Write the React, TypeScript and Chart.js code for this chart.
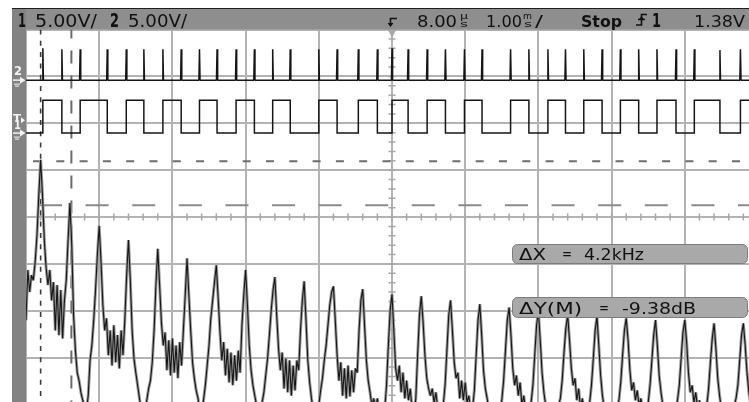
import { useEffect, useRef } from "react";
import { Chart, registerables } from "chart.js";

Chart.register(...registerables);

// ---- acquisition settings ----
const VOLTS_PER_DIV = 5;
const TIME_MS_PER_DIV = 1;
const TRIG_DELAY_US = 8;
const TRIG_LEVEL_V = 1.38;
const CH1_OFFSET_DIV = 1.79;
const CH2_OFFSET_DIV = 2.92;
const FFT_SPAN_KHZ = 100;
const FFT_DB_PER_DIV = 10;

// channel 1 logic transitions (ms from trigger), first one is a rising edge
const ch1Edges = [
  -4.77, -4.51, -4.26, -3.89, -3.63, -3.39, -3.13, -2.88, -2.63, -2.39,
  -2.13, -1.88, -1.63, -1.39, -1.0, -0.75, -0.46, -0.2, 0, 0.22,
  0.48, 0.73, 0.99, 1.23, 1.62, 1.87, 2.13, 2.37, 2.62, 2.87,
  3.12, 3.37, 3.62, 3.88, 4.13, 4.48, 4.76,
];
// channel 1 low / high level (V)
const ch1Levels = [0, 3.5];

// channel 2 spike height at each channel 1 transition (V)
const ch2Spikes = [
  3.4, 3.3, 3.3, 3.3, 3.3, 3.3, 3.3, 3.3, 3.3, 3.3,
  3.3, 3.3, 3.3, 3.3, 3.3, 3.3, 3.3, 3.3, 3.4, 3.3,
  3.3, 3.3, 3.3, 3.3, 3.3, 3.3, 3.3, 3.3, 3.3, 3.3,
  3.3, 3.3, 3.3, 3.3, 3.3, 3.2, 3.3,
];

// FFT magnitude (dB), one value per 0.25 kHz bin starting at 0 kHz
const FFT_BIN_KHZ = 0.25;
const fftDb = [
  -22.0, -11.3, -16.0, -12.4, -13.5, -9.6, -3.9, 4.7, 12.2, 4.7, -4.9, -10.9, -14.5, -11.3, -17.8, -13.9,
  -24.2, -14.5, -25.2, -15.6, -25.9, -17.8, -13.5, -4.9, 3.0, -6.0, -21.0, -28.5, -33.2, -34.9, -37.4, -39.1,
  -40.2, -41.3, -38.1, -30.6, -27.4, -22.0, -15.6, -8.1, -1.9, -9.6, -18.8, -24.2, -21.6, -29.5, -24.2, -31.7,
  -23.1, -31.0, -25.2, -32.3, -24.2, -29.5, -22.0, -12.4, -4.9, -13.5, -24.2, -30.2, -33.2, -35.9, -38.7, -41.3,
  -42.4, -41.7, -39.1, -36.6, -34.9, -31.0, -24.2, -14.5, -6.8, -14.5, -22.5, -27.4, -24.6, -32.7, -26.3, -33.8,
  -25.9, -33.2, -27.4, -34.4, -26.7, -31.7, -24.2, -16.7, -8.8, -16.7, -24.2, -31.0, -34.4, -37.0, -38.7, -41.7,
  -42.4, -39.1, -35.9, -31.7, -27.4, -21.6, -17.8, -13.9, -10.3, -17.3, -24.6, -30.6, -26.7, -33.8, -28.1, -35.3,
  -28.9, -35.9, -29.5, -34.9, -28.5, -33.2, -23.1, -16.7, -11.3, -18.8, -27.4, -32.7, -35.9, -38.1, -40.2, -42.4,
  -41.7, -39.6, -37.4, -33.8, -30.2, -25.2, -19.9, -15.6, -12.8, -21.0, -28.1, -32.7, -28.9, -36.6, -30.2, -37.4,
  -30.6, -38.1, -31.7, -37.0, -30.6, -32.7, -24.2, -17.8, -13.7, -22.0, -30.6, -35.3, -38.7, -41.3, -42.4, -41.7,
  -40.2, -37.0, -34.4, -30.6, -27.4, -23.1, -18.8, -16.0, -14.8, -22.0, -29.5, -34.9, -31.0, -38.1, -32.3, -38.7,
  -31.7, -38.3, -32.7, -37.4, -32.3, -33.2, -24.2, -17.8, -15.4, -23.1, -30.6, -34.9, -37.4, -40.2, -38.7, -41.3,
  -38.7, -41.7, -40.9, -39.6, -41.3, -35.9, -27.4, -19.9, -16.5, -24.2, -32.3, -34.9, -31.7, -37.4, -33.2, -38.7,
  -34.9, -39.1, -36.6, -41.3, -42.4, -38.7, -29.5, -21.0, -16.9, -22.5, -29.5, -34.4, -36.6, -38.1, -36.6, -39.6,
  -37.4, -40.9, -42.4, -41.7, -40.2, -35.9, -28.5, -21.0, -17.8, -24.2, -31.0, -34.4, -33.2, -38.7, -34.9, -39.1,
  -35.3, -39.6, -38.1, -41.7, -40.9, -37.0, -29.5, -22.0, -18.6, -25.2, -32.7, -36.6, -38.7, -41.3, -40.2, -42.4,
  -41.7, -39.6, -41.3, -42.4, -39.1, -34.9, -28.5, -22.0, -19.3, -25.2, -32.3, -35.9, -33.8, -38.1, -35.3, -40.2,
  -38.1, -41.3, -42.4, -41.7, -39.6, -35.9, -29.5, -23.1, -20.1, -26.3, -33.2, -37.4, -40.2, -41.7, -40.9, -42.4,
  -41.7, -42.4, -41.3, -40.2, -38.7, -34.9, -28.9, -23.7, -20.9, -26.3, -32.3, -35.9, -34.4, -39.1, -36.6, -40.9,
  -38.7, -41.7, -42.4, -41.7, -39.6, -35.9, -30.2, -24.2, -21.2, -27.4, -33.8, -38.1, -40.9, -42.4, -41.7, -42.4,
  -41.3, -42.4, -41.7, -40.9, -39.1, -35.3, -29.5, -24.2, -21.6, -26.3, -32.7, -37.0, -35.3, -39.1, -37.0, -40.2,
  -38.7, -41.3, -42.4, -41.7, -39.6, -35.9, -30.6, -25.2, -22.0, -27.4, -33.8, -37.4, -40.2, -41.7, -42.4, -41.7,
  -41.3, -42.4, -41.7, -40.9, -39.1, -35.9, -30.2, -24.6, -22.0, -26.7, -33.2, -37.4, -35.9, -39.6, -37.4, -40.9,
  -39.1, -41.7, -42.4, -41.7, -40.2, -36.6, -31.0, -25.9, -22.7, -28.1, -34.4, -38.1, -40.9, -42.4, -41.7, -42.4,
  -41.7, -42.4, -41.3, -40.2, -38.7, -35.9, -30.6, -25.2, -22.7, -27.4, -33.2, -37.4, -40.0, -41.0, -42.0, -41.0,
];

// measurement cursors: X in kHz, Y in dB
const cursorKHz = [2.0, 6.2];
const cursorDb = [11.9, 2.52];

const HALF_DIVS_X = 5;
const HALF_DIVS_Y = 4;

type Pt = { x: number; y: number };

function buildCh1(): Pt[] {
  const [lo, hi] = ch1Levels;
  const tEnd = HALF_DIVS_X * TIME_MS_PER_DIV;
  const pts: Pt[] = [{ x: -tEnd, y: lo }];
  let level = lo;
  ch1Edges.forEach((t, i) => {
    const next = i % 2 === 0 ? hi : lo;
    pts.push({ x: t, y: level }, { x: t, y: next });
    level = next;
  });
  pts.push({ x: tEnd, y: level });
  return pts;
}

function buildCh2(): Pt[] {
  const tEnd = HALF_DIVS_X * TIME_MS_PER_DIV;
  const w = 0.008;
  const pts: Pt[] = [{ x: -tEnd, y: 0 }];
  ch1Edges.forEach((t, i) => {
    pts.push({ x: t - w, y: 0 }, { x: t, y: ch2Spikes[i] }, { x: t + w, y: 0 });
  });
  pts.push({ x: tEnd, y: 0 });
  return pts;
}

function buildFft(): Pt[] {
  return fftDb.map((v, i) => ({ x: i * FFT_BIN_KHZ, y: v }));
}

const FONT = '"DejaVu Sans", "Liberation Sans", sans-serif';

function fitText(ctx: CanvasRenderingContext2D, text: string, x: number, y: number, width: number, font: string) {
  ctx.font = font;
  const m = ctx.measureText(text).width || 1;
  ctx.save();
  ctx.translate(x, y);
  ctx.scale(width / m, 1);
  ctx.fillText(text, 0, 0);
  ctx.restore();
}

function dashedLine(ctx: CanvasRenderingContext2D, x1: number, y1: number, x2: number, y2: number, dash: number[], offset: number, color: string, lw: number) {
  ctx.save();
  ctx.strokeStyle = color;
  ctx.lineWidth = lw;
  ctx.setLineDash(dash);
  ctx.lineDashOffset = offset;
  ctx.beginPath();
  ctx.moveTo(x1, y1);
  ctx.lineTo(x2, y2);
  ctx.stroke();
  ctx.restore();
}

const scopeFrame = {
  id: "scopeFrame",
  beforeDraw(chart: any) {
    const { ctx, width, height } = chart;
    ctx.save();
    ctx.fillStyle = "#ffffff";
    ctx.fillRect(0, 0, width, height);
    ctx.restore();
  },
  beforeDatasetsDraw(chart: any) {
    const { ctx, chartArea: a, scales } = chart;
    const cx = scales.x.getPixelForValue(0);
    const cy = scales.y.getPixelForValue(0);
    ctx.save();
    ctx.strokeStyle = "#a8a8a8";
    ctx.lineWidth = 1.5;
    ctx.beginPath();
    for (let v = -HALF_DIVS_Y; v <= HALF_DIVS_Y + 1e-6; v += 0.2) {
      const py = scales.y.getPixelForValue(v);
      ctx.moveTo(cx - 3.5, py);
      ctx.lineTo(cx + 3.5, py);
    }
    for (let v = -HALF_DIVS_X; v <= HALF_DIVS_X + 1e-6; v += 0.2) {
      const px = scales.x.getPixelForValue(v);
      ctx.moveTo(px, cy - 3.5);
      ctx.lineTo(px, cy + 3.5);
    }
    ctx.stroke();
    // trigger position marker
    ctx.fillStyle = "#a8a8a8";
    ctx.beginPath();
    ctx.moveTo(cx - 4.5, a.top);
    ctx.lineTo(cx + 4.5, a.top);
    ctx.lineTo(cx, a.top + 8);
    ctx.closePath();
    ctx.fill();
    ctx.restore();

    // FFT cursors
    const xf = scales.xF;
    const yf = scales.yF;
    const x1 = xf.getPixelForValue(cursorKHz[0]);
    const x2 = xf.getPixelForValue(cursorKHz[1]);
    const y1 = yf.getPixelForValue(cursorDb[0]);
    const y2 = yf.getPixelForValue(cursorDb[1]);
    dashedLine(ctx, a.left, y1, a.right, y1, [8, 15.3], 16.3, "#6e6e6e", 2);
    dashedLine(ctx, a.left, y2, a.right, y2, [23, 23.6], 33.6, "#8a8a8a", 2);
    dashedLine(ctx, x1, a.top, x1, a.bottom, [5, 6.3], 0, "#3c3c3c", 1.6);
    dashedLine(ctx, x2, a.top, x2, a.bottom, [13, 12], 4, "#6a6a6a", 2);
  },
  afterDraw(chart: any) {
    const { ctx, width, height, scales } = chart;
    ctx.save();
    // frame: top white, dark rule, grey header and left strip
    ctx.fillStyle = "#ffffff";
    ctx.fillRect(0, 0, width, 8);
    ctx.fillRect(0, 0, 12, height);
    ctx.fillStyle = "#1e1e1e";
    ctx.fillRect(12, 8, width - 12, 1);
    ctx.fillStyle = "#8e8e8e";
    ctx.fillRect(12, 9, width - 12, chart.chartArea.top - 9);
    ctx.fillStyle = "#838383";
    ctx.fillRect(12, 9, chart.chartArea.left - 12, height - 9);

    // header text
    ctx.fillStyle = "#111111";
    ctx.textBaseline = "alphabetic";
    const vdiv = `${VOLTS_PER_DIV.toFixed(2)}V/`;
    fitText(ctx, "1", 18, 27, 8, `bold 19px ${FONT}`);
    fitText(ctx, vdiv, 35, 27, 62, `18px ${FONT}`);
    fitText(ctx, "2", 110, 27, 9, `bold 19px ${FONT}`);
    fitText(ctx, vdiv, 128, 27, 59, `18px ${FONT}`);

    // trigger-position symbol
    ctx.strokeStyle = "#111111";
    ctx.fillStyle = "#111111";
    ctx.lineWidth = 1.6;
    ctx.beginPath();
    ctx.moveTo(397, 18.5);
    ctx.lineTo(390.5, 18.5);
    ctx.lineTo(390.5, 24);
    ctx.stroke();
    ctx.beginPath();
    ctx.moveTo(387.5, 23);
    ctx.lineTo(393.5, 23);
    ctx.lineTo(390.5, 27);
    ctx.closePath();
    ctx.fill();

    fitText(ctx, TRIG_DELAY_US.toFixed(2), 417, 26.5, 40, `16px ${FONT}`);
    fitText(ctx, "\u00b5", 460, 19, 8, `9px ${FONT}`);
    fitText(ctx, "s", 460, 27, 8, `9px ${FONT}`);
    fitText(ctx, TIME_MS_PER_DIV.toFixed(2), 486, 26.5, 36, `16px ${FONT}`);
    fitText(ctx, "m", 523, 19, 9, `9px ${FONT}`);
    fitText(ctx, "s", 524, 27, 8, `9px ${FONT}`);
    fitText(ctx, "/", 535, 26.5, 8, `16px ${FONT}`);
    fitText(ctx, "Stop", 581, 26.5, 41, `bold 16px ${FONT}`);

    // trigger slope symbol
    ctx.beginPath();
    ctx.moveTo(636, 25);
    ctx.lineTo(641.5, 25);
    ctx.lineTo(641.5, 14.5);
    ctx.lineTo(647, 14.5);
    ctx.moveTo(638, 19.5);
    ctx.lineTo(645, 19.5);
    ctx.stroke();
    ctx.beginPath();
    ctx.moveTo(638.5, 20);
    ctx.lineTo(644.5, 20);
    ctx.lineTo(641.5, 16);
    ctx.closePath();
    ctx.fill();

    fitText(ctx, "1", 652, 27, 9, `bold 19px ${FONT}`);
    fitText(ctx, `${TRIG_LEVEL_V.toFixed(2)}V`, 694, 26.5, 51, `16px ${FONT}`);

    // channel markers on the left strip
    const g2 = scales.y2.getPixelForValue(0);
    const g1 = scales.y1.getPixelForValue(0);
    const tl = scales.y1.getPixelForValue(TRIG_LEVEL_V);
    ctx.fillStyle = "#f2f2f2";
    ctx.strokeStyle = "#f2f2f2";
    fitText(ctx, "2", 14, g2 - 5, 8, `bold 12px ${FONT}`);
    fitText(ctx, "1", 14, g1 - 4, 7, `bold 12px ${FONT}`);
    fitText(ctx, "T", 13, tl + 2, 8, `bold 10px ${FONT}`);
    ctx.lineWidth = 1.5;
    for (const gy of [g2, g1]) {
      ctx.beginPath();
      ctx.moveTo(13, gy);
      ctx.lineTo(22, gy);
      ctx.stroke();
      ctx.beginPath();
      ctx.moveTo(20, gy - 3.5);
      ctx.lineTo(25.5, gy);
      ctx.lineTo(20, gy + 3.5);
      ctx.closePath();
      ctx.fill();
      ctx.fillRect(14, gy + 3.5, 6, 1);
      ctx.fillRect(15, gy + 5.5, 4, 1);
    }
    ctx.beginPath();
    ctx.moveTo(21, tl - 3);
    ctx.lineTo(25, tl);
    ctx.lineTo(21, tl + 3);
    ctx.closePath();
    ctx.fill();

    // cursor readouts
    const dX = (cursorKHz[1] - cursorKHz[0]).toFixed(1);
    const dY = (cursorDb[1] - cursorDb[0]).toFixed(2);
    const box = (y: number, h: number) => {
      ctx.beginPath();
      ctx.roundRect(512.5, y + 0.5, 235, h, 5);
      ctx.fillStyle = "#a9a9a9";
      ctx.fill();
      ctx.strokeStyle = "#7c7c7c";
      ctx.lineWidth = 1;
      ctx.stroke();
    };
    box(244, 19);
    box(297, 20);
    ctx.fillStyle = "#111111";
    fitText(ctx, "\u0394X", 519, 260, 27, `16px ${FONT}`);
    fitText(ctx, "=", 562, 259, 10, `16px ${FONT}`);
    fitText(ctx, `${dX}kHz`, 584, 260, 60, `16px ${FONT}`);
    fitText(ctx, "\u0394Y(M)", 519, 313.5, 63, `16px ${FONT}`);
    fitText(ctx, "=", 599, 312.5, 10, `16px ${FONT}`);
    fitText(ctx, `${dY}dB`, 622, 313.5, 74, `16px ${FONT}`);
    ctx.restore();
  },
};

export default function App() {
  const ref = useRef<HTMLCanvasElement | null>(null);

  useEffect(() => {
    const canvas = ref.current;
    if (!canvas) return;
    const fft = buildFft();
    const hideAxis = { display: false };
    const gridAxis = {
      type: "linear" as const,
      ticks: { display: false, stepSize: 1 },
      grid: { color: "#b3b3b3", lineWidth: 2, drawTicks: false },
      border: { display: false },
    };
    const chart = new Chart(canvas, {
      type: "line",
      data: {
        datasets: [
          {
            label: "FFT halo",
            data: fft,
            xAxisID: "xF",
            yAxisID: "yF",
            borderColor: "#9c9c9c",
            borderWidth: 3,
            pointRadius: 0,
            borderJoinStyle: "bevel",
            order: 4,
          },
          {
            label: "FFT",
            data: fft,
            xAxisID: "xF",
            yAxisID: "yF",
            borderColor: "#161616",
            borderWidth: 1.1,
            pointRadius: 0,
            borderJoinStyle: "bevel",
            order: 3,
          },
          {
            label: "Channel 1",
            data: buildCh1(),
            xAxisID: "x",
            yAxisID: "y1",
            borderColor: "#151515",
            borderWidth: 1.5,
            pointRadius: 0,
            order: 2,
          },
          {
            label: "Channel 2",
            data: buildCh2(),
            xAxisID: "x",
            yAxisID: "y2",
            borderColor: "#151515",
            borderWidth: 1.5,
            pointRadius: 0,
            borderJoinStyle: "bevel",
            order: 1,
          },
        ],
      },
      options: {
        animation: false,
        responsive: false,
        devicePixelRatio: 1,
        events: [],
        layout: { padding: { left: 26, top: 29.5, right: 2, bottom: 1.5 } },
        plugins: { legend: { display: false }, tooltip: { enabled: false } },
        scales: {
          x: { ...gridAxis, position: "bottom", min: -HALF_DIVS_X * TIME_MS_PER_DIV, max: HALF_DIVS_X * TIME_MS_PER_DIV },
          y: { ...gridAxis, position: "left", min: -HALF_DIVS_Y, max: HALF_DIVS_Y },
          xF: { ...hideAxis, type: "linear", min: 0, max: FFT_SPAN_KHZ },
          yF: { ...hideAxis, type: "linear", min: -HALF_DIVS_Y * FFT_DB_PER_DIV, max: HALF_DIVS_Y * FFT_DB_PER_DIV },
          y1: {
            ...hideAxis,
            type: "linear",
            min: (-HALF_DIVS_Y - CH1_OFFSET_DIV) * VOLTS_PER_DIV,
            max: (HALF_DIVS_Y - CH1_OFFSET_DIV) * VOLTS_PER_DIV,
          },
          y2: {
            ...hideAxis,
            type: "linear",
            min: (-HALF_DIVS_Y - CH2_OFFSET_DIV) * VOLTS_PER_DIV,
            max: (HALF_DIVS_Y - CH2_OFFSET_DIV) * VOLTS_PER_DIV,
          },
        },
      },
      plugins: [scopeFrame],
    } as any);
    return () => chart.destroy();
  }, []);

  return (
    <div
      style={{
        position: "fixed",
        left: 0,
        top: 0,
        width: 749,
        height: 402,
        overflow: "hidden",
        background: "#ffffff",
      }}
    >
      <canvas ref={ref} width={760} height={406} style={{ display: "block", width: 760, height: 406 }} />
    </div>
  );
}
